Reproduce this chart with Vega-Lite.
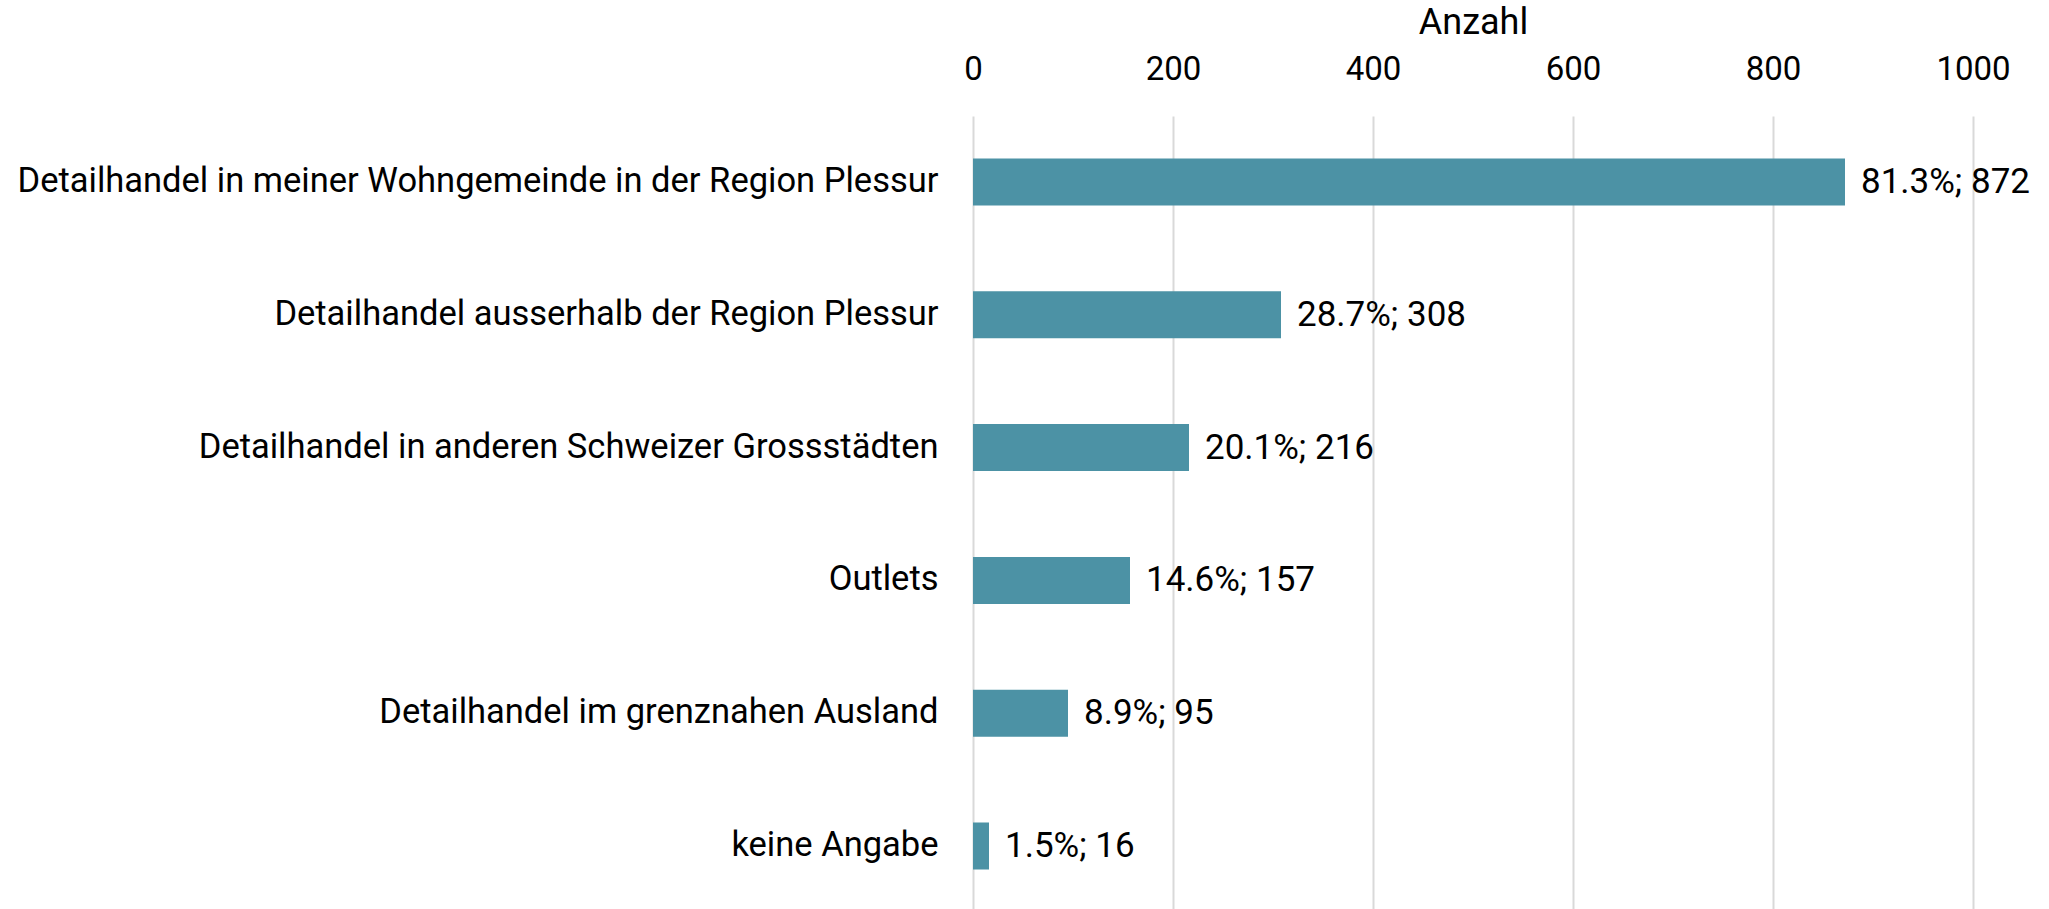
{
  "$schema": "https://vega.github.io/schema/vega-lite/v6.json",
  "autosize": {"type": "none"},
  "padding": {"left": 973, "top": 116, "right": 76, "bottom": 0},
  "width": 1000,
  "height": 796,
  "background": "white",
  "config": {
    "font": "Roboto",
    "view": {"stroke": null}
  },
  "data": {
    "values": [
      {"kategorie": "Detailhandel in meiner Wohngemeinde in der Region Plessur", "anzahl": 872, "label": "81.3%; 872"},
      {"kategorie": "Detailhandel ausserhalb der Region Plessur", "anzahl": 308, "label": "28.7%; 308"},
      {"kategorie": "Detailhandel in anderen Schweizer Grossstädten", "anzahl": 216, "label": "20.1%; 216"},
      {"kategorie": "Outlets", "anzahl": 157, "label": "14.6%; 157"},
      {"kategorie": "Detailhandel im grenznahen Ausland", "anzahl": 95, "label": "8.9%; 95"},
      {"kategorie": "keine Angabe", "anzahl": 16, "label": "1.5%; 16"}
    ]
  },
  "encoding": {
    "y": {
      "field": "kategorie",
      "type": "nominal",
      "sort": null,
      "scale": {"paddingInner": 0.646, "paddingOuter": 0.32},
      "axis": {
        "title": null,
        "domain": false,
        "ticks": false,
        "tickSize": 0,
        "labelPadding": 35,
        "labelFontSize": 34.5,
        "labelColor": "#000000",
        "labelFont": "Roboto",
        "labelLimit": 1200
      }
    },
    "x": {
      "field": "anzahl",
      "type": "quantitative",
      "scale": {"domain": [0, 1000], "nice": false},
      "axis": {
        "orient": "top",
        "title": "Anzahl",
        "titleFont": "Roboto",
        "titleFontSize": 36,
        "titleFontWeight": "normal",
        "titleColor": "#000000",
        "titlePadding": 12,
        "values": [0, 200, 400, 600, 800, 1000],
        "format": "d",
        "domain": false,
        "ticks": false,
        "tickSize": 0,
        "labelPadding": 30,
        "labelFontSize": 33,
        "labelColor": "#000000",
        "labelFont": "Roboto",
        "labelFlush": false,
        "grid": true,
        "gridColor": "#d9d9d9",
        "gridWidth": 2
      }
    }
  },
  "layer": [
    {"mark": {"type": "bar", "color": "#4C92A5"}},
    {
      "mark": {"type": "text", "align": "left", "baseline": "middle", "dx": 16, "fontSize": 35, "font": "Roboto", "color": "#000000"},
      "encoding": {"text": {"field": "label"}}
    }
  ]
}
